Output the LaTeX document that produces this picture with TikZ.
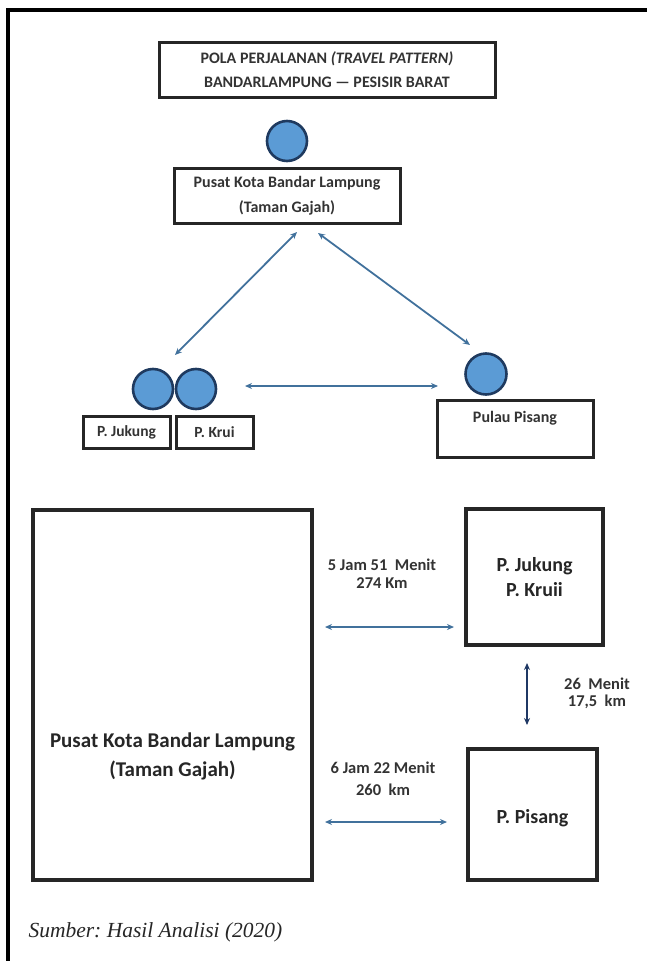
\documentclass[tikz,border=0pt]{standalone}
\usepackage{fontspec}
\setmainfont{Carlito}
\newfontfamily\capfont{Liberation Serif}
\usetikzlibrary{arrows.meta}
\frenchspacing
\definecolor{dotfill}{HTML}{5B9BD5}
\definecolor{dotline}{HTML}{1F3A5F}
\definecolor{arrowblue}{HTML}{41719C}
\definecolor{navy}{HTML}{1F3864}
\definecolor{boxline}{HTML}{262626}
\tikzset{
  box/.style={draw=boxline, line width=3pt, rectangle, inner sep=0pt, align=center, font=\bfseries\fontsize{15.5}{18}\selectfont, text=black!80},
  bigbox/.style={draw=boxline, line width=3.2pt, rectangle, inner sep=0pt, align=center},
  dot/.style={draw=dotline, fill=dotfill, line width=2.6pt, circle, inner sep=0pt, minimum size=40pt},
  twoway/.style={draw=arrowblue, line width=1.8pt, {Stealth[length=7pt,width=6pt]}-{Stealth[length=7pt,width=6pt]}},
  twowaydark/.style={draw=navy, line width=2pt, {Stealth[length=7pt,width=6pt]}-{Stealth[length=7pt,width=6pt]}},
  note/.style={align=center, font=\bfseries\fontsize{16.5}{17.5}\selectfont, text=black!80},
  inbox/.style={align=center, text=black!85},
}
\begin{document}
\begin{tikzpicture}[x=1pt, y=-1pt]
\useasboundingbox (0,0) rectangle (647,961);
% page frame (top and left edges only)
\draw[line width=3.5pt, black] (8,961) -- (8,10) -- (647,10);

% ---------- upper scheme ----------
\node[box, minimum width=336pt, minimum height=55pt, font=\bfseries\fontsize{16}{24}\selectfont] (title) at (327,69.5)
  {POLA PERJALANAN \textit{(TRAVEL PATTERN)}\\BANDARLAMPUNG --- PESISIR BARAT};
\node[dot] (dcity) at (287,141) {};
\node[box, minimum width=226pt, minimum height=55pt, font=\bfseries\fontsize{16}{25}\selectfont] (city) at (287,195.5)
  {Pusat Kota Bandar Lampung\\(Taman Gajah)};

\node[dot] (djuk) at (153,389) {};
\node[dot] (dkrui) at (196,389) {};
\node[box, minimum width=87pt, minimum height=32pt] (juk) at (126.5,432) {P. Jukung};
\node[box, minimum width=77pt, minimum height=32pt] (krui) at (214.5,432) {P. Krui};

\node[dot, minimum size=41pt] (dpis) at (486,374) {};
\node[box, minimum width=156pt, minimum height=57pt] (pis) at (515,428.5) {};
\node[inbox, font=\bfseries\fontsize{16}{18}\selectfont, text=black!80] (pistext) at (515,418) {Pulau Pisang};

% connector end points
\coordinate (cityL) at (297,232);
\coordinate (cityR) at (318,233);
\coordinate (jukTop) at (175,355);
\coordinate (pisTop) at (470,345);
\coordinate (midL) at (245,386);
\coordinate (midR) at (438,386);
\draw[twoway] (cityL) -- (jukTop);
\draw[twoway] (cityR) -- (pisTop);
\draw[twoway] (midL) -- (midR);

% ---------- lower scheme ----------
\node[bigbox, minimum width=279pt, minimum height=370pt] (bigcity) at (172.5,695) {};
\node[inbox, font=\bfseries\fontsize{21}{29}\selectfont] (bigcitytext) at (172.5,756.5)
  {Pusat Kota Bandar Lampung\\(Taman Gajah)};
\node[bigbox, minimum width=137pt, minimum height=136pt, font=\bfseries\fontsize{20}{25}\selectfont, text=black!85] (bjuk) at (534.5,577)
  {P. Jukung\\P. Kruii};
\node[bigbox, minimum width=129pt, minimum height=131pt] (bpis) at (532.5,814.5) {};
\node[inbox, font=\bfseries\fontsize{20}{24}\selectfont] (bpistext) at (532.5,818) {P. Pisang};

\node[note] (l1) at (382,573.5) {5 Jam 51\ \ Menit\\274 Km};
\node[note] (l2) at (597,693.5) {26\ \ Menit\\17,5\ \ km};
\node[note, font=\bfseries\fontsize{16.5}{22}\selectfont] (l3) at (383,779) {6 Jam 22 Menit\\260\ \ km};

\coordinate (a1L) at (325,627);
\coordinate (a1R) at (454,627);
\coordinate (a2T) at (527,663);
\coordinate (a2B) at (527,725);
\coordinate (a3L) at (325,822);
\coordinate (a3R) at (447,822);
\draw[twoway] (a1L) -- (a1R);
\draw[twowaydark] (a2T) -- (a2B);
\draw[twoway] (a3L) -- (a3R);

\node[anchor=west, font=\capfont\itshape\fontsize{21.5}{24}\selectfont, text=black!85] (src) at (25,932)
  {Sumber: Hasil Analisi (2020)};
\end{tikzpicture}
\end{document}
